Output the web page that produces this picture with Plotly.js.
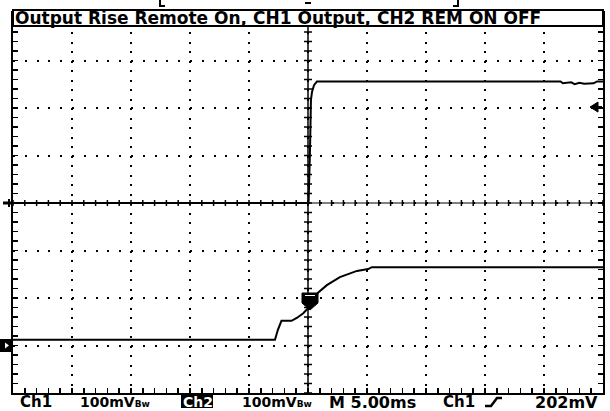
<!DOCTYPE html>
<html>
<head>
<meta charset="utf-8">
<script src="https://cdn.plot.ly/plotly-3.0.1.min.js"></script>
<style>html,body{margin:0;padding:0;background:#fff;}#chart{width:610px;height:411px;}</style>
</head>
<body>
<div id="chart"></div>
<script>
// ---- Data ----
// time axis: 5.00 ms/div, 10 divisions, trigger at centre (t = 0)
const timeRangeMs = [-25, 25];
const voltsPerDivMv = 100;           // both channels 100 mV/div
const ch1PositionDiv = 0;            // CH1 ground marker at centre line
const ch2PositionDiv = -3;           // CH2 ground marker 3 div below centre

// CH1 : Output (mV)
const ch1TimeMs = [-25, 0.05, 0.17, 0.25, 0.34, 0.51, 0.76, 21.4, 21.6, 22.3, 22.6, 23.0, 23.4, 24.2, 24.5, 25];
const ch1Mv     = [0,   0,    112,  217,  234,  248,  256,  256,  252,  254,  250,  253,  251,  252,  256,  256];

// CH2 : REM ON/OFF (mV)
const ch2TimeMs = [-25, -2.8, -2.55, -2.25, -1.4, -0.95, -0.4, 0.1, 0.85, 1.6, 2.7, 4.15, 5.1, 5.4, 25];
const ch2Mv     = [12,  12,   33,    52,    52,   58,    68,   81,  111,  127, 144, 157,  161, 165, 165];

const titleText = "Output Rise Remote On, CH1 Output, CH2 REM ON OFF";
const readoutCh1 = ["Ch1", "100mV"];
const readoutCh2 = ["Ch2", "100mV"];
const readoutTime = "M 5.00ms";
const readoutTrig = ["Ch1", "202mV"];
const triggerLevelMv = 202;

// ---- geometry helpers (pixel -> paper) for scope decorations ----
const L = 13, R = 603, T = 13, B = 393;
const px = x => (x - L) / (R - L);
const py = y => (B - y) / (B - T);

const toDiv = (mv, pos) => mv.map(v => pos + v / voltsPerDivMv);

const traces = [
  {x: ch1TimeMs, y: toDiv(ch1Mv, ch1PositionDiv), mode: 'lines', line: {color: '#000', width: 2}, hoverinfo: 'skip'},
  {x: ch2TimeMs, y: toDiv(ch2Mv, ch2PositionDiv), mode: 'lines', line: {color: '#000', width: 2}, hoverinfo: 'skip'}
];

const shapes = [];
const msPerPx = 5 / 59, divPerPx = 1 / 47.5;
// centre vertical axis with cross ticks
shapes.push({type: 'line', xref: 'x', yref: 'y', x0: 0, x1: 0, y0: -4, y1: 4, line: {color: '#000', width: 1.5}});
for (let k = -20; k <= 20; k++) {
  const y = k * 0.2;
  shapes.push({type: 'line', xref: 'x', yref: 'y', x0: -4 * msPerPx, x1: 4 * msPerPx, y0: y, y1: y, line: {color: '#000', width: 1.5}});
}
// centre horizontal axis with cross ticks
shapes.push({type: 'line', xref: 'x', yref: 'y', x0: -25, x1: 25, y0: 0, y1: 0, line: {color: '#000', width: 1}});
for (let k = -25; k <= 25; k++) {
  shapes.push({type: 'line', xref: 'x', yref: 'y', x0: k, x1: k, y0: -3 * divPerPx, y1: 3 * divPerPx, line: {color: '#000', width: 1.5}});
}
// title box
shapes.push({type: 'rect', xref: 'paper', yref: 'paper', x0: px(13), x1: px(603), y0: py(26), y1: py(10), fillcolor: '#fff', line: {color: '#000', width: 2}, layer: 'above'});
// top record brackets and trigger position mark
shapes.push({type: 'path', xref: 'paper', yref: 'paper', path: `M${px(160)},${py(0)} L${px(160)},${py(6)} L${px(165)},${py(6)}`, line: {color: '#000', width: 2}});
shapes.push({type: 'path', xref: 'paper', yref: 'paper', path: `M${px(458)},${py(0)} L${px(458)},${py(6)} L${px(453)},${py(6)}`, line: {color: '#000', width: 2}});
shapes.push({type: 'line', xref: 'paper', yref: 'paper', x0: px(305), x1: px(311), y0: py(3), y1: py(3), line: {color: '#000', width: 2}});
// CH1 ground marker (left, centre)
shapes.push({type: 'line', xref: 'paper', yref: 'paper', x0: px(3), x1: px(13), y0: py(203), y1: py(203), line: {color: '#000', width: 3}});
shapes.push({type: 'line', xref: 'paper', yref: 'paper', x0: px(9), x1: px(9), y0: py(199), y1: py(207), line: {color: '#000', width: 2}});
// CH2 ground marker (left)
shapes.push({type: 'rect', xref: 'paper', yref: 'paper', x0: px(0), x1: px(12), y0: py(352), y1: py(339), fillcolor: '#000', line: {width: 0}});
shapes.push({type: 'path', xref: 'paper', yref: 'paper', path: `M${px(5)},${py(342.5)} L${px(9)},${py(345.5)} L${px(5)},${py(348.5)} Z`, fillcolor: '#fff', line: {width: 0}});
// trigger level arrow (right)
const trigY = 203 - (triggerLevelMv / voltsPerDivMv) * 47.5;
shapes.push({type: 'path', xref: 'paper', yref: 'paper', path: `M${px(590)},${py(trigY)} L${px(598)},${py(trigY - 5)} L${px(598)},${py(trigY + 5)} Z`, fillcolor: '#000', line: {color: '#000', width: 1}});
shapes.push({type: 'line', xref: 'paper', yref: 'paper', x0: px(596), x1: px(602), y0: py(trigY), y1: py(trigY), line: {color: '#000', width: 2}});
// trigger point marker on CH2
shapes.push({type: 'path', xref: 'paper', yref: 'paper', path: `M${px(302)},${py(293)} L${px(318)},${py(293)} L${px(318)},${py(303)} L${px(310)},${py(310)} L${px(302)},${py(303)} Z`, fillcolor: '#000', line: {color: '#000', width: 1}});
shapes.push({type: 'line', xref: 'paper', yref: 'paper', x0: px(305), x1: px(315), y0: py(295.5), y1: py(295.5), line: {color: '#fff', width: 1}});
// Ch2 inverse readout box
shapes.push({type: 'rect', xref: 'paper', yref: 'paper', x0: px(181), x1: px(213), y0: py(408), y1: py(395), fillcolor: '#000', line: {width: 0}});
// trigger slope symbol
shapes.push({type: 'path', xref: 'paper', yref: 'paper', path: `M${px(485)},${py(406)} L${px(491)},${py(406)} L${px(497)},${py(398)} L${px(502)},${py(398)}`, line: {color: '#000', width: 2.5}});

const fontB = (size, color) => ({family: 'DejaVu Sans', size: size, color: color || '#000', weight: 'bold'});
const ann = (x, y, text, size, color) => ({xref: 'paper', yref: 'paper', x: px(x), y: py(y), xanchor: 'left', yanchor: 'middle', text: text, showarrow: false, font: fontB(size, color), borderpad: 0});
const bw = "<span style='font-size:9px'>Bw</span>";

const annotations = [
  ann(14, 18.5, titleText, 17),
  ann(19, 402, readoutCh1[0], 15),
  ann(79, 402, readoutCh1[1] + bw, 14),
  ann(182, 402, readoutCh2[0], 14, '#fff'),
  ann(241, 402, readoutCh2[1] + bw, 14),
  ann(328, 402, readoutTime, 16),
  ann(442, 402, readoutTrig[0], 15),
  ann(534, 402, readoutTrig[1], 16)
];

const layout = {
  width: 610, height: 411,
  margin: {l: L, r: 610 - R, t: T, b: 411 - B, pad: 0},
  paper_bgcolor: '#fff', plot_bgcolor: '#fff',
  showlegend: false,
  xaxis: {
    range: timeRangeMs, dtick: 5, tick0: 0, showticklabels: false,
    showgrid: true, gridcolor: '#000', gridwidth: 2, griddash: '2px,7.5px',
    zeroline: false, showline: true, linecolor: '#000', linewidth: 2, mirror: 'allticks',
    ticks: 'inside', ticklen: 5, tickwidth: 1.5, tickcolor: '#000',
    minor: {dtick: 1, tick0: 0, ticks: 'inside', ticklen: 5, tickwidth: 1.5, tickcolor: '#000', showgrid: false},
    fixedrange: true
  },
  yaxis: {
    range: [-4, 4], dtick: 1, tick0: 0, showticklabels: false,
    showgrid: true, gridcolor: '#000', gridwidth: 2, griddash: '2px,9.8px',
    zeroline: false, showline: true, linecolor: '#000', linewidth: 2, mirror: 'allticks',
    ticks: 'inside', ticklen: 5, tickwidth: 1.5, tickcolor: '#000',
    minor: {dtick: 0.2, tick0: 0, ticks: 'inside', ticklen: 5, tickwidth: 1.5, tickcolor: '#000', showgrid: false},
    fixedrange: true
  },
  shapes: shapes,
  annotations: annotations
};

Plotly.newPlot('chart', traces, layout, {staticPlot: true, displayModeBar: false});
</script>
</body>
</html>
